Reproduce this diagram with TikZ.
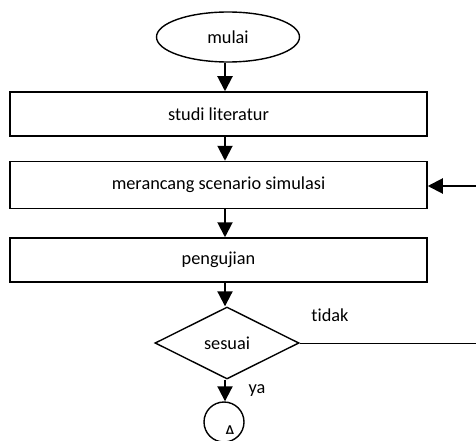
\documentclass[tikz,border=0pt]{standalone}
\usepackage{fontspec}
\setmainfont[Ligatures=NoCommon]{Carlito}
\usetikzlibrary{shapes.geometric,arrows.meta,calc}
\begin{document}
\begin{tikzpicture}[x=1pt,y=-1pt,
  every node/.style={font=\fontsize{18.3}{21}\selectfont},
  stepbox/.style={draw,line width=1.5pt,rectangle,minimum width=417pt,inner sep=0pt},
  term/.style={draw,line width=1.4pt,ellipse,minimum width=143pt,minimum height=50pt,inner sep=0pt},
  decide/.style={draw,line width=1.4pt,diamond,minimum width=144pt,minimum height=72pt,inner sep=0pt},
  conn/.style={draw,line width=1.4pt,circle,minimum size=40pt,inner sep=0pt},
  flow/.style={line width=2pt,-{Triangle[width=15pt,length=15pt]}},
  thin/.style={line width=1pt}]
\useasboundingbox (0,0) rectangle (476,441);
\clip (0,0) rectangle (476,441);
\coordinate (axis) at (225,0);
\node[term] (mulai) at (228,37) {mulai};
\node[stepbox,minimum height=44pt] (s1) at (218.5,114) {studi literatur};
\node[stepbox,minimum height=47pt] (s2) at (218.5,185) {merancang scenario simulasi};
\node[stepbox,minimum height=44pt] (s3) at (218.5,260) {pengujian};
\node[decide] (d) at (227,343) {sesuai};
\node[conn] (c) at (224,422) {};
\begin{scope}
\clip (190,400) rectangle (260,433);
\node (clabel) at (230,432) {A};
\end{scope}
\coordinate (rb) at (476,343);
\coordinate (rt) at (476,186);
\draw[flow] (mulai.south -| axis) -- (s1.north -| axis);
\draw[flow] (s1.south -| axis) -- (s2.north -| axis);
\draw[flow] (s2.south -| axis) -- (s3.north -| axis);
\draw[flow] (s3.south -| axis) -- (d.north -| axis);
\draw[flow] (d.south -| axis) -- (c.north -| axis);
\draw[thin] (d.east) -- (rb);
\draw[flow] (rt) -- (rt -| s2.east);
\node (tidak) at (330,315) {tidak};
\node (ya) at (257,391) {ya};
\end{tikzpicture}
\end{document}
